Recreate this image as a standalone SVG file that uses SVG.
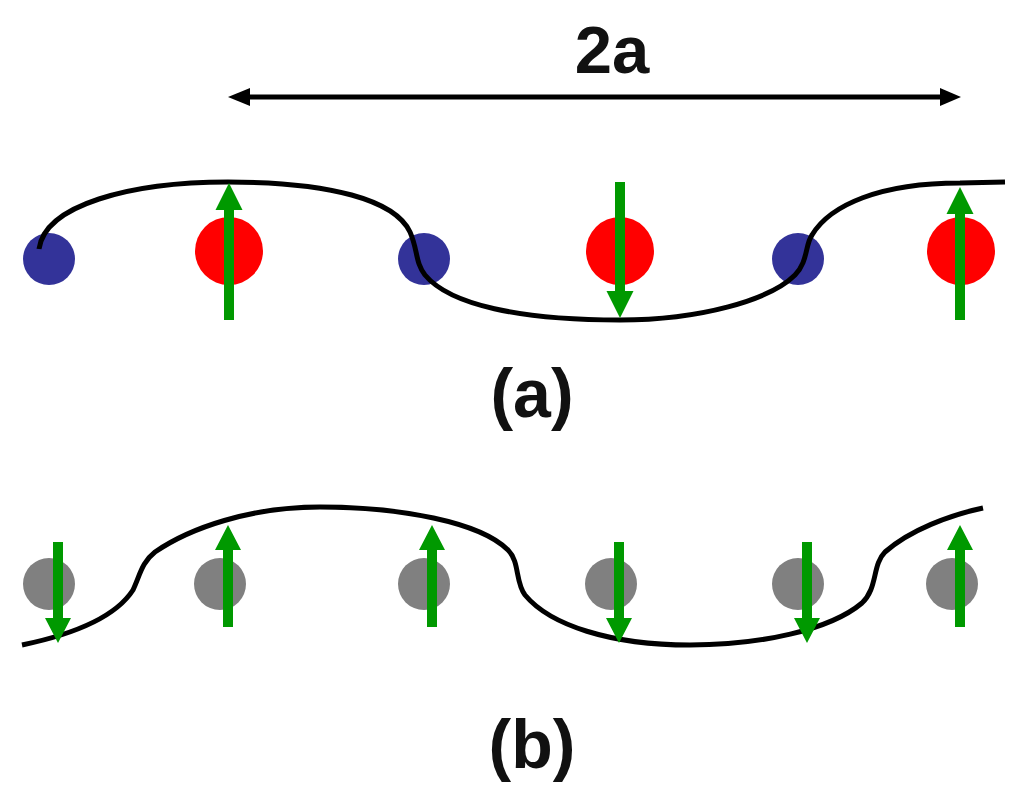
<svg xmlns="http://www.w3.org/2000/svg" width="1024" height="801" viewBox="0 0 1024 801">
<style>
.curve{fill:none;stroke:#000;stroke-width:5;stroke-linecap:butt}
.blue{fill:#333399}
.red{fill:#ff0000}
.gray{fill:#808080}
.spin{fill:#009900}
.lbl{font-family:"Liberation Sans",Arial,sans-serif;font-weight:bold;fill:#111;text-anchor:middle}
.dim{stroke:#000;stroke-width:5;fill:none}
</style>
<rect width="1024" height="801" fill="#fff"/>
<g id="dimension">
<line class="dim" x1="246" y1="97" x2="944" y2="97"/>
<polygon points="228,97 250,88 250,106" fill="#000"/>
<polygon points="961,97 940,88 940,106" fill="#000"/>
<text class="lbl" x="612" y="73" font-size="67">2a</text>
</g>
<g id="row-a-atoms">
<circle class="blue" cx="49" cy="259" r="26"/>
<circle class="blue" cx="424" cy="259" r="26"/>
<circle class="blue" cx="798" cy="259" r="26"/>
<circle class="red" cx="229" cy="251" r="34"/>
<circle class="red" cx="620" cy="251" r="34"/>
<circle class="red" cx="961" cy="251" r="34"/>
</g>
<g id="row-a-curve">
<path class="curve" d="M39,249 C45,205 130,182 228,182 C330,182 395,200 410,232 C418,250 415,262 425,275 C450,305 520,320 620,320 C700,320 770,300 795,275 C808,262 805,245 812,235 C830,205 880,183 960,183 L1005,182"/>
</g>
<g id="row-a-spins">
<path class="spin" d="M224,320 V210 H215.5 L229,183 L242.5,210 H234 V320 Z"/>
<path class="spin" d="M615,182 V291 H606.5 L620,318 L633.5,291 H625 V182 Z"/>
<path class="spin" d="M955,320 V214 H946.5 L960,187 L973.5,214 H965 V320 Z"/>
</g>
<g id="label-a"><text class="lbl" x="532" y="417" font-size="68">(a)</text></g>
<g id="row-b-atoms">
<circle class="gray" cx="49" cy="584" r="26"/>
<circle class="gray" cx="220" cy="584" r="26"/>
<circle class="gray" cx="424" cy="584" r="26"/>
<circle class="gray" cx="611" cy="584" r="26"/>
<circle class="gray" cx="798" cy="584" r="26"/>
<circle class="gray" cx="952" cy="584" r="26"/>
</g>
<g id="row-b-curve">
<path class="curve" d="M22,645 C70,635 115,618 133,590 C140,575 142,562 155,552 C190,528 250,507 320,507 C400,507 480,522 508,550 C520,562 515,582 525,595 C550,625 610,645 690,645 C760,645 830,630 862,603 C878,588 872,565 885,552 C910,530 950,515 983,508"/>
</g>
<g id="row-b-spins">
<path class="spin" d="M53,542 V618 H45 L58,643 L71,618 H63 V542 Z"/>
<path class="spin" d="M223,627 V550 H215 L228,525 L241,550 H233 V627 Z"/>
<path class="spin" d="M427,627 V550 H419 L432,525 L445,550 H437 V627 Z"/>
<path class="spin" d="M614,542 V618 H606 L619,643 L632,618 H624 V542 Z"/>
<path class="spin" d="M802,542 V618 H794 L807,643 L820,618 H812 V542 Z"/>
<path class="spin" d="M955,627 V550 H947 L960,525 L973,550 H965 V627 Z"/>
</g>
<g id="label-b"><text class="lbl" x="532" y="768" font-size="68">(b)</text></g>
</svg>
